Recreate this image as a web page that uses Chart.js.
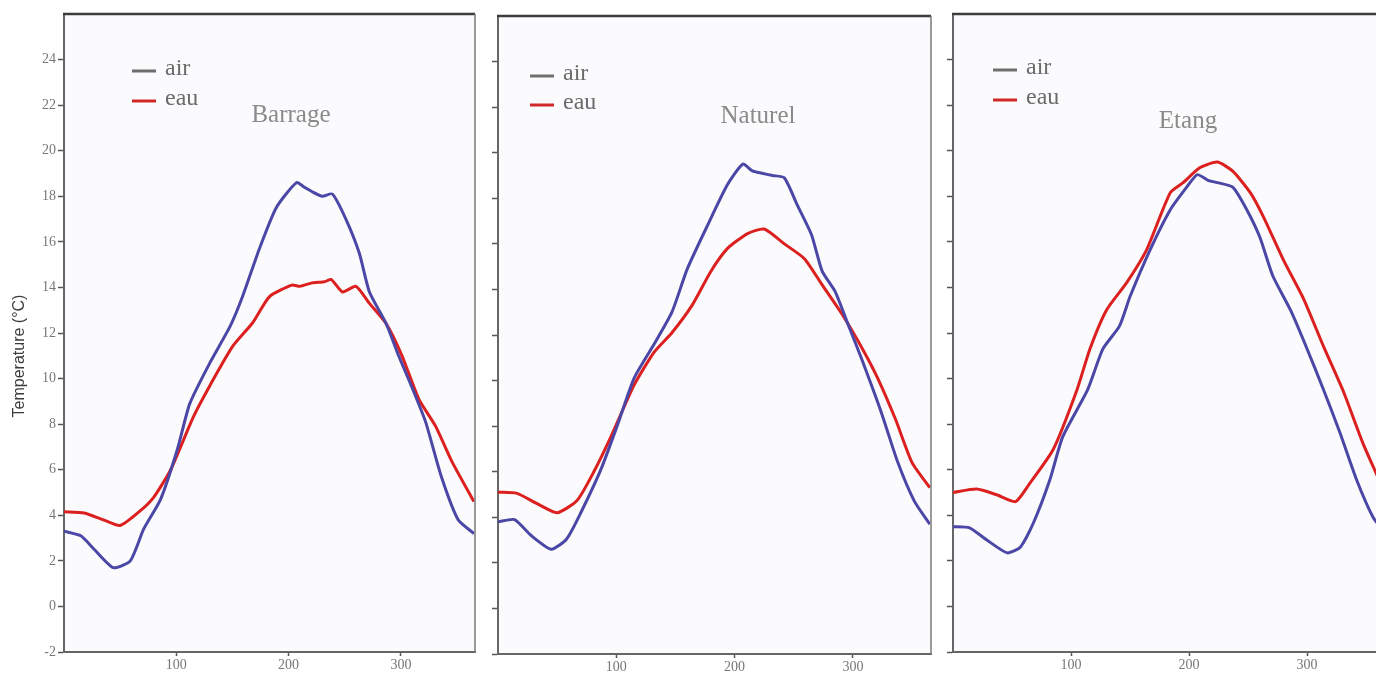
<!DOCTYPE html>
<html>
<head>
<meta charset="utf-8">
<script src="https://cdn.jsdelivr.net/npm/chart.js@4.4.1/dist/chart.umd.min.js"></script>
<style>
  body { margin: 0; background: #fff; width: 1376px; height: 673px; overflow: hidden; position: relative; }
  canvas { position: absolute; top: 0; }
</style>
</head>
<body>
<canvas id="c1" width="482" height="673" style="left:0px"></canvas>
<canvas id="c2" width="458" height="673" style="left:482px"></canvas>
<canvas id="c3" width="452" height="673" style="left:940px"></canvas>
<script>
// values (day of year, temperature in °C)
const barrageAirDay  = [0, 15, 27, 44, 59, 71, 86, 101, 112, 130, 148, 159, 174, 189, 207, 214, 221, 230, 239, 251, 263, 272, 287, 298, 310, 322, 336, 351, 365];
const barrageAirTemp = [3.3, 3.1, 2.5, 1.7, 2.0, 3.4, 4.7, 6.9, 8.9, 10.7, 12.3, 13.6, 15.7, 17.5, 18.6, 18.4, 18.2, 18.0, 18.1, 17.0, 15.5, 13.8, 12.4, 11.0, 9.6, 8.1, 5.7, 3.8, 3.2];
const barrageEauDay  = [0, 18, 35, 50, 68, 80, 95, 115, 130, 150, 168, 183, 203, 210, 221, 232, 238, 248, 260, 272, 287, 301, 316, 331, 345, 365];
const barrageEauTemp = [4.15, 4.1, 3.8, 3.55, 4.2, 4.8, 6.0, 8.3, 9.7, 11.4, 12.45, 13.6, 14.1, 14.05, 14.2, 14.25, 14.35, 13.8, 14.05, 13.3, 12.4, 11.0, 9.1, 7.9, 6.4, 4.6];

const naturelAirDay  = [0, 14, 28, 45, 58, 70, 87, 101, 115, 132, 147, 160, 177, 194, 207, 215, 223, 232, 242, 253, 265, 274, 285, 296, 307, 324, 338, 352, 365];
const naturelAirTemp = [3.8, 3.9, 3.2, 2.6, 3.05, 4.2, 6.1, 8.05, 10.1, 11.6, 13.0, 14.9, 16.8, 18.6, 19.5, 19.2, 19.1, 19.0, 18.9, 17.7, 16.4, 14.8, 13.9, 12.45, 11.0, 8.6, 6.4, 4.7, 3.7];
const naturelEauDay  = [0, 16, 33, 50, 67, 81, 96, 115, 132, 147, 164, 180, 194, 211, 225, 242, 259, 274, 291, 308, 321, 336, 350, 365];
const naturelEauTemp = [5.1, 5.05, 4.6, 4.2, 4.75, 6.0, 7.6, 9.8, 11.25, 12.1, 13.3, 14.8, 15.8, 16.45, 16.65, 16.0, 15.35, 14.2, 12.9, 11.4, 10.1, 8.3, 6.4, 5.3];

const etangAirDay  = [0, 14, 29, 46, 57, 68, 82, 93, 114, 127, 141, 150, 167, 184, 198, 207, 216, 224, 237, 249, 260, 271, 286, 300, 314, 328, 342, 356, 365];
const etangAirTemp = [3.5, 3.45, 2.9, 2.35, 2.6, 3.65, 5.55, 7.45, 9.5, 11.3, 12.3, 13.6, 15.65, 17.4, 18.4, 18.95, 18.7, 18.6, 18.4, 17.4, 16.2, 14.5, 13.0, 11.3, 9.5, 7.6, 5.55, 3.9, 3.3];
const etangEauDay  = [0, 20, 37, 53, 65, 85, 105, 116, 130, 147, 164, 184, 195, 209, 224, 237, 252, 263, 280, 297, 314, 331, 347, 358, 365];
const etangEauTemp = [5.0, 5.15, 4.9, 4.6, 5.4, 6.9, 9.5, 11.3, 13.0, 14.2, 15.65, 18.15, 18.6, 19.25, 19.5, 19.1, 18.15, 17.1, 15.2, 13.5, 11.4, 9.4, 7.2, 5.9, 5.1];

const seriesNames = ['air', 'eau'];
const panelTitles = ['Barrage', 'Naturel', 'Etang'];
const xTicks = [100, 200, 300];
const yTickMax = 24;

const airColor = '#4b47a6';
const eauColor = '#dc2020';
const serif = '"Liberation Serif", "Times New Roman", serif';

function toPoints(days, temps) {
    return days.map((d, i) => ({ x: d, y: temps[i] }));
}

// panel box + legend + title, drawn on top of the chart
const panelDecor = {
    id: 'panelDecor',
    beforeDraw(chart) {
        const a = chart.chartArea, ctx = chart.ctx;
        ctx.save();
        ctx.fillStyle = '#fbfbfd';
        ctx.fillRect(a.left, a.top, a.right - a.left, a.bottom - a.top);
        ctx.restore();
    },
    afterDraw(chart, args, o) {
        const a = chart.chartArea, ctx = chart.ctx;
        ctx.save();
        // top and right frame
        ctx.strokeStyle = '#3c3c3c';
        ctx.lineWidth = 2.5;
        ctx.beginPath();
        ctx.moveTo(a.left - 1, a.top);
        ctx.lineTo(a.right, a.top);
        ctx.stroke();
        ctx.strokeStyle = '#7a7a7a';
        ctx.lineWidth = 1.5;
        ctx.beginPath();
        ctx.moveTo(a.right, a.top);
        ctx.lineTo(a.right, a.bottom);
        ctx.stroke();

        // legend
        const cols = ['#6e6e6e', '#d02828'];
        ctx.font = '24px ' + serif;
        ctx.textBaseline = 'middle';
        seriesNames.forEach((name, i) => {
            const y = o.legendY[i];
            ctx.strokeStyle = cols[i];
            ctx.lineWidth = 3;
            ctx.beginPath();
            ctx.moveTo(o.legendX, y);
            ctx.lineTo(o.legendX + 24, y);
            ctx.stroke();
            ctx.fillStyle = '#6b6b6b';
            ctx.fillText(name, o.legendX + 33, y - 2);
        });

        // panel title
        ctx.font = '25px ' + serif;
        ctx.fillStyle = '#8a8a8a';
        ctx.textAlign = 'center';
        ctx.fillText(o.title, o.titleX, o.titleY);

        // y axis title
        if (o.yTitle) {
            ctx.translate(20, 356);
            ctx.rotate(-Math.PI / 2);
            ctx.font = '16px "Liberation Sans", Arial, sans-serif';
            ctx.fillStyle = '#3c3c3c';
            ctx.fillText(o.yTitle, 0, 0);
        }
        ctx.restore();
    }
};

function makePanel(id, air, eau, p) {
    return new Chart(document.getElementById(id), {
        type: 'line',
        plugins: [panelDecor],
        data: {
            datasets: [
                { label: seriesNames[0], data: air, borderColor: airColor, borderWidth: 3, pointRadius: 0, tension: 0.2 },
                { label: seriesNames[1], data: eau, borderColor: eauColor, borderWidth: 3, pointRadius: 0, tension: 0.2 },
            ],
        },
        options: {
            responsive: false,
            animation: false,
            layout: { padding: { top: p.top, right: p.right, left: 0, bottom: 0 } },
            plugins: {
                legend: { display: false },
                tooltip: { enabled: false },
                panelDecor: p,
            },
            scales: {
                x: {
                    type: 'linear',
                    min: 0,
                    max: 366,
                    afterBuildTicks: ax => { ax.ticks = xTicks.map(v => ({ value: v })); },
                    afterFit: ax => { ax.height = p.xHeight; },
                    grid: { drawOnChartArea: false, tickLength: 4, tickColor: '#555', tickWidth: 1.5 },
                    border: { color: '#666', width: 2 },
                    ticks: { color: '#777', padding: 1, font: { family: serif, size: 14 } },
                },
                y: {
                    min: -2,
                    max: 26,
                    ticks: {
                        stepSize: 2,
                        color: '#777',
                        padding: 2,
                        font: { family: serif, size: 14 },
                        callback: v => p.yLabels ? v : '',
                    },
                    afterBuildTicks: ax => { ax.ticks = ax.ticks.filter(t => t.value <= yTickMax); },
                    afterFit: ax => { ax.width = p.yWidth; },
                    grid: { drawOnChartArea: false, tickLength: 6, tickColor: '#555', tickWidth: 1.5 },
                    border: { color: '#666', width: 2 },
                },
            },
        },
    });
}

makePanel('c1', toPoints(barrageAirDay, barrageAirTemp), toPoints(barrageEauDay, barrageEauTemp), {
    top: 14, right: 7, yWidth: 64, xHeight: 21, yLabels: true,
    legendX: 132, legendY: [71, 101], title: panelTitles[0], titleX: 291, titleY: 115,
    yTitle: 'Temperature (°C)',
});
makePanel('c2', toPoints(naturelAirDay, naturelAirTemp), toPoints(naturelEauDay, naturelEauTemp), {
    top: 16, right: 9, yWidth: 16, xHeight: 19, yLabels: false,
    legendX: 48, legendY: [76, 105], title: panelTitles[1], titleX: 276, titleY: 116,
});
makePanel('c3', toPoints(etangAirDay, etangAirTemp), toPoints(etangEauDay, etangEauTemp), {
    top: 14, right: 7, yWidth: 13, xHeight: 21, yLabels: false,
    legendX: 53, legendY: [70, 100], title: panelTitles[2], titleX: 248, titleY: 121,
});
</script>
</body>
</html>
